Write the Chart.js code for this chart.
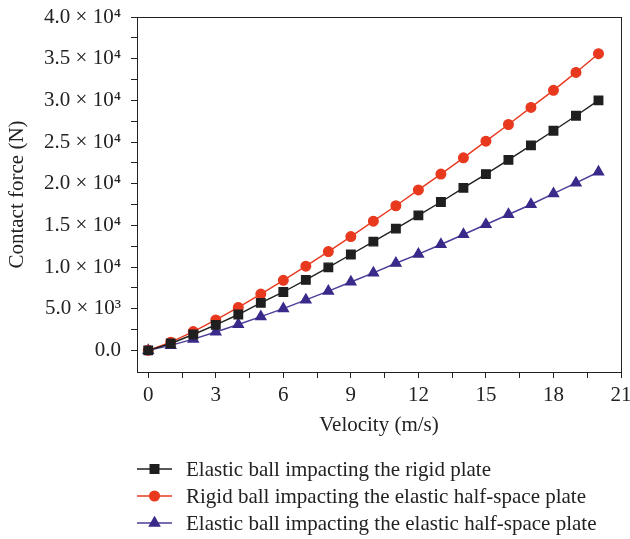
<!DOCTYPE html>
<html>
<head>
<meta charset="utf-8">
<script src="https://cdn.jsdelivr.net/npm/chart.js@4.4.0/dist/chart.umd.min.js"></script>
<style>
  html, body { margin: 0; padding: 0; background: #fff; }
  #wrap { width: 630px; height: 539px; }
</style>
</head>
<body>
<div id="wrap"><canvas id="forceChart" width="630" height="539"></canvas></div>
<script>
// Velocity (m/s)
const velocities = [0, 1, 2, 3, 4, 5, 6, 7, 8, 9, 10, 11, 12, 13, 14, 15, 16, 17, 18, 19, 20];

// Contact force (N)
const elasticOnRigid = [0, 820, 1900, 3050, 4300, 5700, 7000, 8450, 9950, 11500, 13050,
    14600, 16200, 17800, 19500, 21150, 22850, 24600, 26350, 28150, 30000];
const rigidOnHalfSpace = [0, 980, 2250, 3650, 5150, 6750, 8400, 10100, 11850, 13650, 15500,
    17350, 19250, 21150, 23100, 25100, 27100, 29150, 31200, 33350, 35600];
const elasticOnHalfSpace = [0, 590, 1350, 2200, 3100, 4050, 5000, 6050, 7100, 8200, 9300,
    10450, 11550, 12700, 13900, 15100, 16300, 17500, 18800, 20100, 21400];

const seriesNames = [
    "Elastic ball impacting the rigid plate",
    "Rigid ball impacting the elastic half-space plate",
    "Elastic ball impacting the elastic half-space plate"
];

const yTickValues = [0, 5000, 10000, 15000, 20000, 25000, 30000, 35000, 40000];
const xTickValues = [0, 3, 6, 9, 12, 15, 18, 21];

const serif = "'Liberation Serif', 'DejaVu Serif', serif";
const fontSize = 21;
const supDigits = { "0": "\u2070", "1": "\u00b9", "2": "\u00b2", "3": "\u00b3", "4": "\u2074", "5": "\u2075" };

function sciLabel(v) {
    if (v === 0) return "0.0";
    const exp = Math.floor(Math.log10(v));
    const mant = (v / Math.pow(10, exp)).toFixed(1);
    return mant + " \u00d7 10" + String(exp).split("").map(d => supDigits[d]).join("");
}

// Frame round the plot area plus the legend under the axes
const framePlugin = {
    id: "frameAndLegend",
    afterDraw(chart) {
        const ctx = chart.ctx;
        const a = chart.chartArea;
        ctx.save();
        ctx.strokeStyle = "#222";
        ctx.lineWidth = 1;
        ctx.strokeRect(a.left + 0.5, a.top + 0.5, a.right - a.left, a.bottom - a.top);

        // legend
        chart.data.datasets.forEach((ds, i) => {
            const y = 469 + i * 27;
            ctx.strokeStyle = ds.borderColor;
            ctx.lineWidth = 1.5;
            ctx.beginPath();
            ctx.moveTo(137, y);
            ctx.lineTo(172, y);
            ctx.stroke();
            ctx.fillStyle = ds.pointBackgroundColor;
            ctx.strokeStyle = ds.pointBorderColor;
            Chart.helpers.drawPoint(ctx, {
                pointStyle: ds.pointStyle,
                radius: ds.pointRadius,
                borderWidth: 1,
                rotation: 0
            }, 154.5, y);
            ctx.fillStyle = "#222";
            ctx.font = fontSize + "px " + serif;
            ctx.textBaseline = "middle";
            ctx.textAlign = "left";
            ctx.fillText(ds.label, 186, y + 1);
        });
        ctx.restore();
    }
};

function keepTicks(values) {
    return function (scale) {
        scale.ticks = values.map(v => ({ value: v }));
    };
}

const yMinor = [];
for (let i = 0; i < yTickValues.length; i++) {
    yMinor.push(yTickValues[i]);
    if (i < yTickValues.length - 1) yMinor.push((yTickValues[i] + yTickValues[i + 1]) / 2);
}
const xMinor = [];
for (let i = 0; i < xTickValues.length; i++) {
    xMinor.push(xTickValues[i]);
    if (i < xTickValues.length - 1) xMinor.push((xTickValues[i] + xTickValues[i + 1]) / 2);
}

const ctx = document.getElementById("forceChart").getContext("2d");
new Chart(ctx, {
    type: "line",
    data: {
        datasets: [
            {
                label: seriesNames[0],
                data: velocities.map((v, i) => ({ x: v, y: elasticOnRigid[i] })),
                borderColor: "#1f1f1f",
                pointBackgroundColor: "#1f1f1f",
                pointBorderColor: "#1f1f1f",
                pointStyle: "rect",
                pointRadius: 6,
                borderWidth: 1.4
            },
            {
                label: seriesNames[1],
                data: velocities.map((v, i) => ({ x: v, y: rigidOnHalfSpace[i] })),
                borderColor: "#e8391f",
                pointBackgroundColor: "#e8391f",
                pointBorderColor: "#e8391f",
                pointStyle: "circle",
                pointRadius: 4.8,
                borderWidth: 1.4
            },
            {
                label: seriesNames[2],
                data: velocities.map((v, i) => ({ x: v, y: elasticOnHalfSpace[i] })),
                borderColor: "#4a3c98",
                pointBackgroundColor: "#3a2a8a",
                pointBorderColor: "#3a2a8a",
                pointStyle: "triangle",
                pointRadius: 5.8,
                borderWidth: 1.4
            }
        ]
    },
    options: {
        responsive: false,
        animation: false,
        layout: { padding: { top: 17, right: 9, bottom: 100, left: 0 } },
        plugins: { legend: { display: false }, tooltip: { enabled: false } },
        scales: {
            x: {
                type: "linear",
                min: -0.5,
                max: 21,
                afterBuildTicks: keepTicks(xMinor),
                afterFit(scale) {
                    scale.height = 67;
                    scale.paddingRight = 0;
                    scale.paddingLeft = 0;
                },
                grid: { drawOnChartArea: false, drawTicks: true, tickLength: 6, color: "#222" },
                border: { display: false },
                ticks: {
                    color: "#222",
                    font: { family: serif, size: fontSize },
                    padding: 5,
                    maxRotation: 0,
                    autoSkip: false,
                    callback: v => xTickValues.includes(v) ? String(v) : ""
                },
                title: {
                    display: true,
                    text: "Velocity (m/s)",
                    color: "#222",
                    font: { family: serif, size: fontSize },
                    padding: { top: 0, bottom: 1 }
                }
            },
            y: {
                type: "linear",
                min: -2600,
                max: 40000,
                afterBuildTicks: keepTicks(yMinor),
                afterFit(scale) {
                    scale.width = 137;
                    scale.paddingTop = 0;
                    scale.paddingBottom = 0;
                },
                grid: { drawOnChartArea: false, drawTicks: true, tickLength: 6, color: "#222" },
                border: { display: false },
                ticks: {
                    color: "#222",
                    font: { family: serif, size: fontSize },
                    padding: 10,
                    autoSkip: false,
                    callback: v => yTickValues.includes(v) ? sciLabel(v) : ""
                },
                title: {
                    display: true,
                    text: "Contact force (N)",
                    color: "#222",
                    font: { family: serif, size: fontSize },
                    padding: { top: 5, bottom: 0 }
                }
            }
        }
    },
    plugins: [framePlugin]
});
</script>
</body>
</html>
